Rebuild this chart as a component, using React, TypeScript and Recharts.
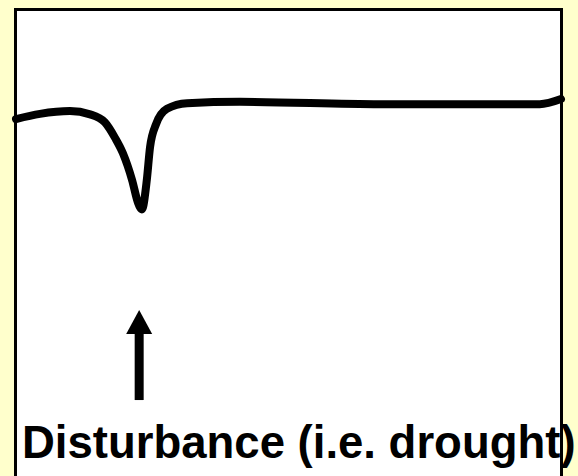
import React from "react";
import { LineChart, Line, XAxis, YAxis, ReferenceLine, ReferenceDot } from "recharts";

// Time axis (arbitrary units 0-100) and ecosystem performance (arbitrary units 0-100)
const times = [0, 4.4, 9.9, 13.6, 16.3, 18.2, 19.6, 21.3, 22.4, 23.1, 24.0, 24.6, 25.7, 27.7, 31.4, 41.1, 66.8, 96.1, 100];
const performance = [76.6, 77.7, 78.3, 77.6, 75.9, 72.5, 69.3, 63.5, 58.6, 57.2, 63.5, 70.6, 75.5, 78.8, 80.0, 80.3, 79.8, 79.8, 80.9];

// Disturbance marker
const disturbanceTime = 22.6;
const arrowBase = 16.3;
const arrowShaftTop = 31.0;
const arrowTip = 35.6;
const disturbanceLabel = "Disturbance (i.e. drought)";

const data = times.map((t, i) => ({ t, v: performance[i] }));

const ArrowHead = (props: any) => {
  const { cx, cy } = props;
  if (cx == null || cy == null) return null;
  return <polygon points={`${cx},${cy} ${cx - 13},${cy + 24} ${cx + 13},${cy + 24}`} fill="#000" />;
};

export default function App() {
  return (
    <div style={{ position: "absolute", left: 0, top: 0, width: 578, height: 476, background: "#FFFFCC", overflow: "hidden" }}>
      <div
        style={{
          position: "absolute",
          left: 14,
          top: 8,
          width: 549,
          height: 480,
          boxSizing: "border-box",
          border: "3px solid #000",
          background: "#fff",
        }}
      />
      <div style={{ position: "absolute", left: 0, top: 0 }}>
        <LineChart width={578} height={476} data={data} margin={{ top: 10, right: 17, bottom: 0, left: 16 }}>
          <XAxis dataKey="t" type="number" domain={[0, 100]} hide />
          <YAxis type="number" domain={[0, 100]} hide />
          <Line
            type="monotone"
            dataKey="v"
            stroke="#000"
            strokeWidth={8}
            dot={false}
            activeDot={false}
            strokeLinecap="round"
            strokeLinejoin="round"
            isAnimationActive={false}
          />
          <ReferenceLine
            segment={[
              { x: disturbanceTime, y: arrowBase },
              { x: disturbanceTime, y: arrowShaftTop },
            ]}
            stroke="#000"
            strokeWidth={9}
            ifOverflow="visible"
          />
          <ReferenceDot x={disturbanceTime} y={arrowTip} r={1} shape={ArrowHead} ifOverflow="visible" />
        </LineChart>
      </div>
      <svg width={578} height={476} style={{ position: "absolute", left: 0, top: 0 }}>
        <text
          x={22}
          y={458}
          fontFamily="'Liberation Sans', Arial, sans-serif"
          fontWeight="bold"
          fontSize={45.5}
          fill="#000"
        >
          {disturbanceLabel}
        </text>
      </svg>
    </div>
  );
}
